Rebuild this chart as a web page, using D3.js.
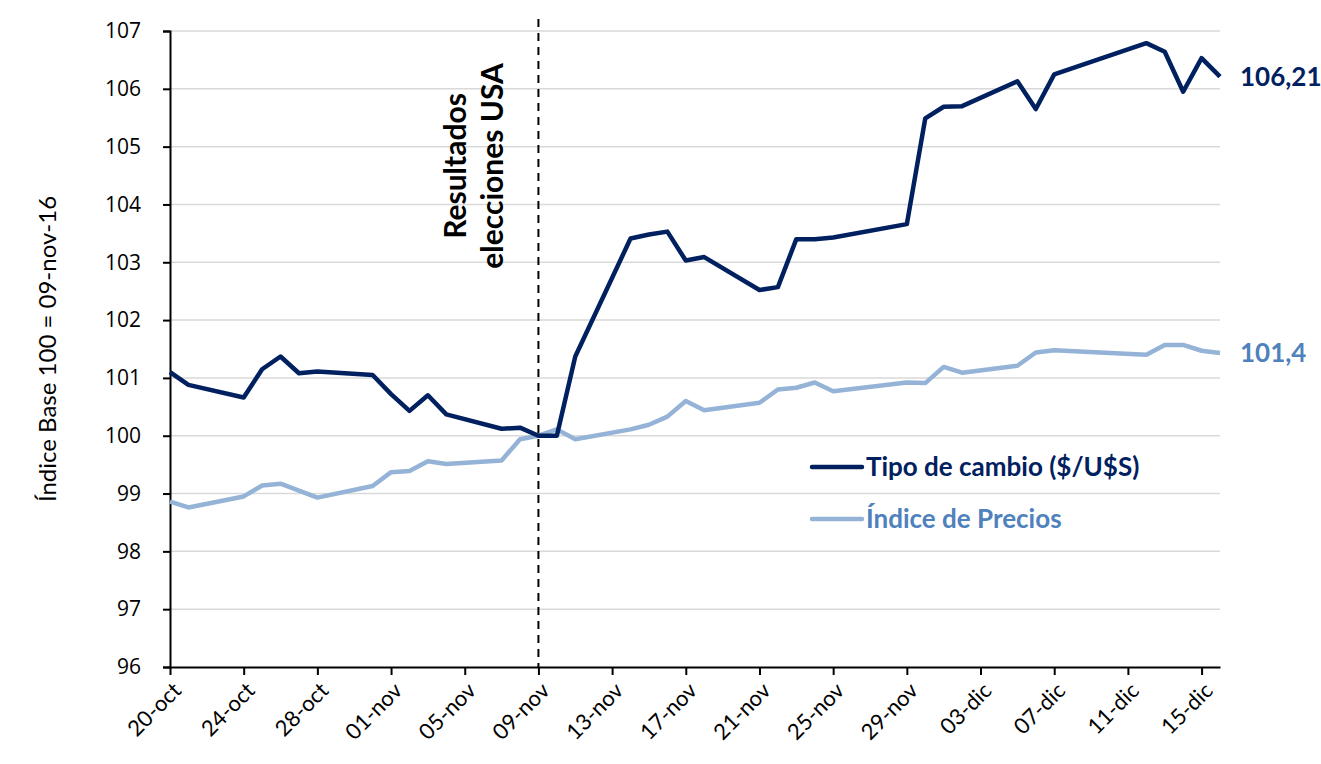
<!DOCTYPE html>
<html>
<head>
<meta charset="utf-8">
<script src="https://cdn.jsdelivr.net/npm/d3@7"></script>
<style>
  body { margin: 0; background: #fff; }
  svg { display: block; }
  text { font-family: Lato, "Open Sans", sans-serif; }
</style>
</head>
<body>
<div id="chart"></div>
<script>
// dias habiles (sin 28-nov, 08-dic, 09-dic)
const dates = [
  "2016-10-20", "2016-10-21", "2016-10-24", "2016-10-25", "2016-10-26", "2016-10-27", "2016-10-28", "2016-10-31",
  "2016-11-01", "2016-11-02", "2016-11-03", "2016-11-04", "2016-11-07", "2016-11-08", "2016-11-09", "2016-11-10",
  "2016-11-11", "2016-11-14", "2016-11-15", "2016-11-16", "2016-11-17", "2016-11-18", "2016-11-21", "2016-11-22",
  "2016-11-23", "2016-11-24", "2016-11-25", "2016-11-29", "2016-11-30",
  "2016-12-01", "2016-12-02", "2016-12-05", "2016-12-06", "2016-12-07", "2016-12-12", "2016-12-13", "2016-12-14",
  "2016-12-15", "2016-12-16"
];

const tipoCambio = [
  101.10, 100.88, 100.66, 101.15, 101.37, 101.08, 101.11, 101.05,
  100.72, 100.43, 100.70, 100.37, 100.12, 100.14, 100.00, 100.00,
  101.37, 103.41, 103.48, 103.53, 103.03, 103.09, 102.52, 102.57,
  103.40, 103.40, 103.43, 103.66, 105.49,
  105.69, 105.70, 106.13, 105.65, 106.25, 106.79, 106.64, 105.95,
  106.53, 106.21
];

const indicePrecios = [
  98.86, 98.76, 98.95, 99.14, 99.17, 99.05, 98.93, 99.13,
  99.37, 99.39, 99.56, 99.51, 99.57, 99.94, 100.00, 100.11,
  99.94, 100.11, 100.19, 100.33, 100.60, 100.44, 100.57, 100.80,
  100.83, 100.92, 100.77, 100.92, 100.91,
  101.19, 101.09, 101.21, 101.44, 101.48, 101.40, 101.57, 101.57,
  101.47, 101.43
];

const tickDates = [
  "2016-10-20", "2016-10-24", "2016-10-28", "2016-11-01", "2016-11-05", "2016-11-09", "2016-11-13", "2016-11-17",
  "2016-11-21", "2016-11-25", "2016-11-29", "2016-12-03", "2016-12-07", "2016-12-11", "2016-12-15"
];
const tickLabels = [
  "20-oct", "24-oct", "28-oct", "01-nov", "05-nov", "09-nov", "13-nov", "17-nov",
  "21-nov", "25-nov", "29-nov", "03-dic", "07-dic", "11-dic", "15-dic"
];
const yTicks = [96, 97, 98, 99, 100, 101, 102, 103, 104, 105, 106, 107];

const eventDate = "2016-11-09";
const endLabels = ["106,21", "101,4"];
const seriesNames = ["Tipo de cambio ($/U$S)", "Índice de Precios"];

const width = 1321, height = 764;
const margin = { top: 31, right: 101, bottom: 97, left: 170 };
const innerW = width - margin.left - margin.right;
const innerH = height - margin.top - margin.bottom;

const parse = d3.timeParse("%Y-%m-%d");
const dark = "#002060";
const light = "#95b3d7";
const lightText = "#4f81bd";

const svg = d3.select("#chart").append("svg")
  .attr("width", width)
  .attr("height", height);

const g = svg.append("g")
  .attr("transform", `translate(${margin.left},${margin.top})`);

const x = d3.scaleTime()
  .domain([parse("2016-10-20"), parse("2016-12-16")])
  .range([0, innerW]);
const y = d3.scaleLinear().domain([96, 107]).range([innerH, 0]);

// gridlines
g.append("g")
  .selectAll("line")
  .data(yTicks.slice(1))
  .join("line")
  .attr("x1", 0)
  .attr("x2", innerW)
  .attr("y1", (d) => y(d))
  .attr("y2", (d) => y(d))
  .attr("stroke", "#d9d9d9")
  .attr("stroke-width", 1.5);

// Y axis
const yAxisG = g.append("g")
  .call(d3.axisLeft(y).tickValues(yTicks).tickSize(7).tickPadding(22).tickFormat(d3.format("d")));
yAxisG.select(".domain").attr("stroke", "#000").attr("stroke-width", 2);
yAxisG.selectAll(".tick line").attr("stroke", "#000").attr("stroke-width", 2);
yAxisG.selectAll(".tick text")
  .style("font-family", "'Open Sans', sans-serif")
  .style("font-size", "21px")
  .attr("fill", "#000");

// X axis
const xAxisG = g.append("g")
  .attr("transform", `translate(0,${innerH})`)
  .call(d3.axisBottom(x)
    .tickValues(tickDates.map(parse))
    .tickSize(8)
    .tickSizeOuter(0)
    .tickFormat((d, i) => tickLabels[i]));
xAxisG.select(".domain").attr("stroke", "#000").attr("stroke-width", 2);
xAxisG.selectAll(".tick line").attr("stroke", "#000").attr("stroke-width", 2);
xAxisG.selectAll(".tick text")
  .style("font-size", "22px")
  .attr("fill", "#000")
  .attr("text-anchor", "end")
  .attr("dy", 0)
  .attr("y", 0)
  .attr("transform", "translate(12,25) rotate(-45)");

// Y axis title
g.append("text")
  .attr("transform", `translate(-114,${innerH / 2}) rotate(-90)`)
  .attr("text-anchor", "middle")
  .style("font-size", "24px")
  .attr("fill", "#000")
  .text("Índice Base 100 = 09-nov-16");

// event line
const ex = x(parse(eventDate));
g.append("line")
  .attr("x1", ex).attr("x2", ex)
  .attr("y1", -12).attr("y2", innerH)
  .attr("stroke", "#000")
  .attr("stroke-width", 2)
  .attr("stroke-dasharray", "8,6");

const evText = g.append("text")
  .attr("transform", `translate(${ex - 72},${135}) rotate(-90)`)
  .attr("text-anchor", "middle")
  .style("font-size", "30px")
  .style("font-weight", "bold")
  .attr("fill", "#000");
evText.append("tspan").attr("x", 0).attr("dy", 0).text("Resultados");
evText.append("tspan").attr("x", 0).attr("dy", 37).text("elecciones USA");

// lines
const seriesList = [
  { values: tipoCambio, color: dark, textColor: dark },
  { values: indicePrecios, color: light, textColor: lightText }
];

const line = d3.line()
  .x((d) => x(d.date))
  .y((d) => y(d.value));

// draw light first so dark is on top
[1, 0].forEach((k) => {
  const s = seriesList[k];
  const pts = dates.map((d, i) => ({ date: parse(d), value: s.values[i] }));
  g.append("path")
    .datum(pts)
    .attr("fill", "none")
    .attr("stroke", s.color)
    .attr("stroke-width", 4.5)
    .attr("stroke-linejoin", "round")
    .attr("d", line);

  const last = pts[pts.length - 1];
  g.append("text")
    .attr("x", x(last.date) + 20)
    .attr("y", y(last.value))
    .attr("dy", "0.35em")
    .style("font-size", "26px")
    .style("font-weight", "bold")
    .attr("fill", s.textColor)
    .text(endLabels[k]);
});

// legend
const legend = g.append("g").attr("transform", `translate(${812 - margin.left},${467 - margin.top})`);
seriesList.forEach((s, i) => {
  const row = legend.append("g").attr("transform", `translate(0,${i * 52})`);
  row.append("line")
    .attr("x1", 0).attr("x2", 50)
    .attr("stroke", s.color)
    .attr("stroke-width", 4.5)
    .attr("stroke-linecap", "round");
  row.append("text")
    .attr("x", 54)
    .attr("dy", "0.35em")
    .style("font-size", "26px")
    .style("font-weight", "bold")
    .attr("fill", s.textColor)
    .text(seriesNames[i]);
});
</script>
</body>
</html>
